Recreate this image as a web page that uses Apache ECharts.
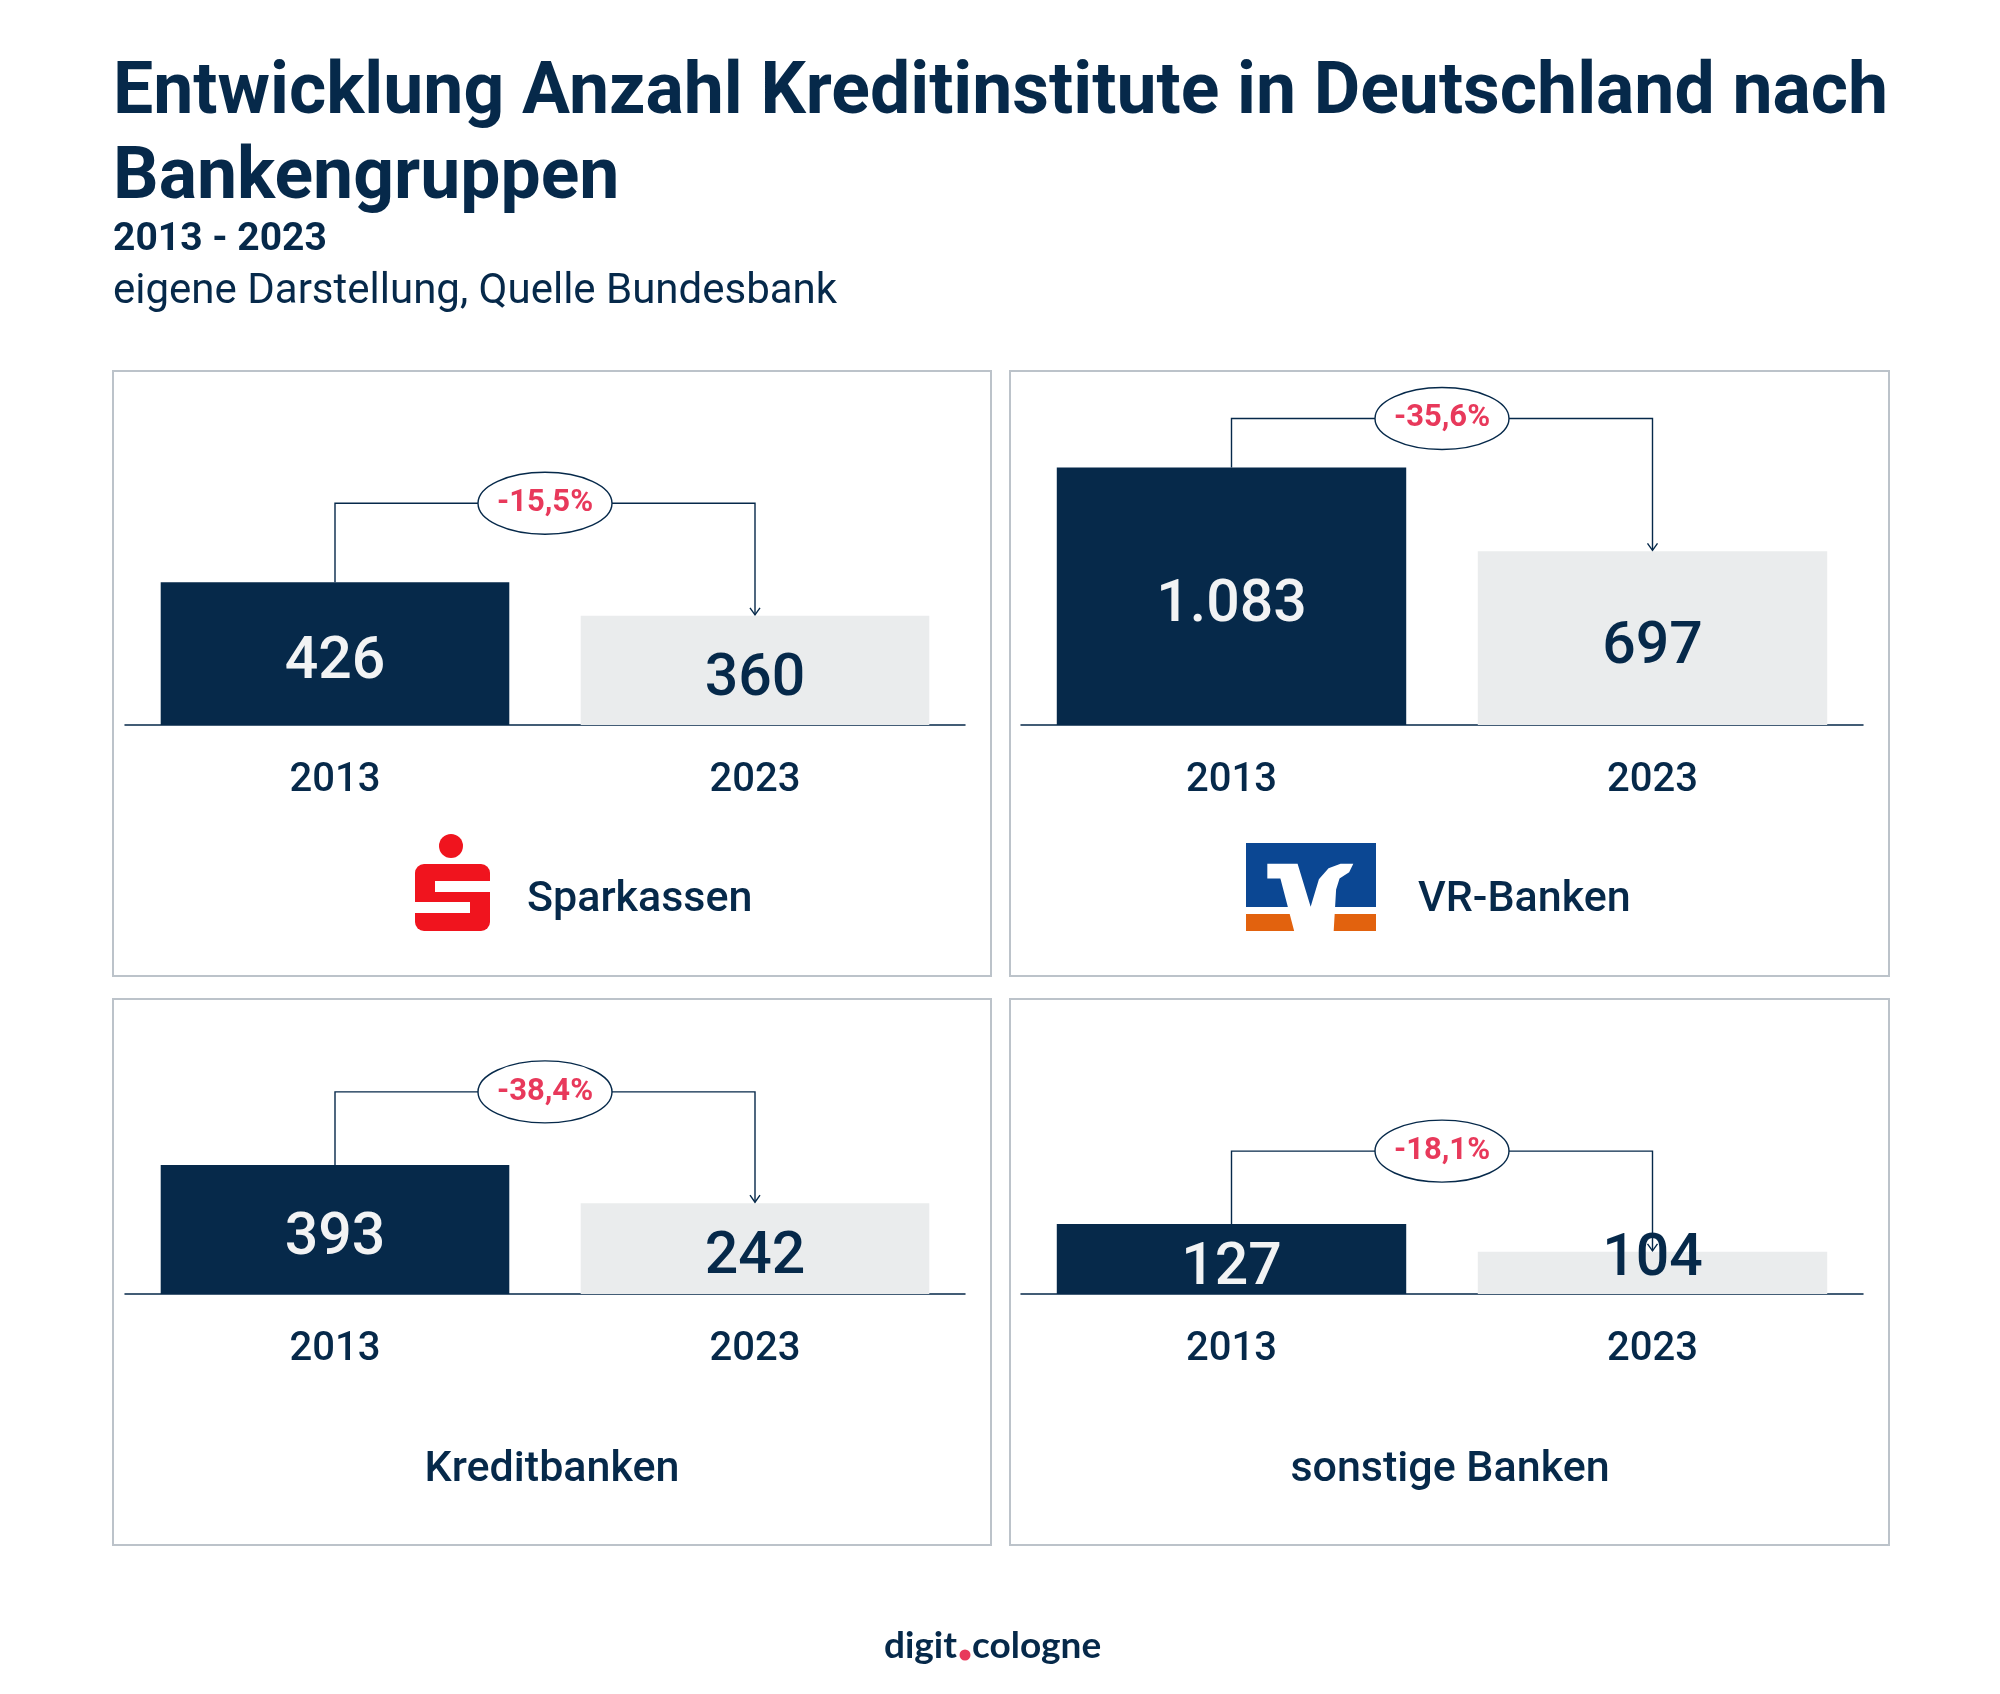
<!DOCTYPE html>
<html>
<head>
<meta charset="utf-8">
<script src="https://cdn.jsdelivr.net/npm/echarts@6/dist/echarts.min.js"></script>
<style>
html, body { margin: 0; padding: 0; background: #ffffff; }
#main { width: 2000px; height: 1694px; }
</style>
</head>
<body>
<div id="main"></div>
<script>
// Daten
var years = ['2013', '2023'];
var groups = ['Sparkassen', 'VR-Banken', 'Kreditbanken', 'sonstige Banken'];
var count2013 = [426, 1083, 393, 127];
var count2023 = [360, 697, 242, 104];

// die Vorlage ist nicht massstabsgetreu, deshalb je Panel eigener (unsichtbarer) Wertebereich
var axisMin = [145, -103, -116, 69];
var axisMax = [785, 1394, 925, 288];

var navy = '#06294a';
var red = '#e8395b';
var barColors = [navy, '#eaeced'];
var labelColors = ['#f2f3f4', navy];

// Layout der vier Panels
var grids = [
    { left: 125, width: 840, top: 400, height: 325 },
    { left: 1021, width: 842, top: 400, height: 325 },
    { left: 125, width: 840, top: 1030, height: 264 },
    { left: 1021, width: 842, top: 1030, height: 264 }
];
var bracketGap = [79, 49, 73, 73];
var frames = [
    [113, 371, 878, 605], [1010, 371, 879, 605],
    [113, 999, 878, 546], [1010, 999, 879, 546]
];

function fmtNum(v) {
    return String(v).replace(/\B(?=(\d{3})+(?!\d))/g, '.');
}
function fmtPct(a, b) {
    return ((b - a) / a * 100).toFixed(1).replace('.', ',') + '%';
}

var myChart = echarts.init(document.getElementById('main'));

var xAxes = [], yAxes = [], series = [];
for (var i = 0; i < 4; i++) {
    xAxes.push({
        type: 'category',
        gridIndex: i,
        data: years,
        axisLine: { onZero: false, lineStyle: { color: navy, width: 1.5 } },
        axisTick: { show: false },
        axisLabel: { color: navy, fontSize: 40, fontWeight: 500, fontFamily: 'Roboto', margin: 36 }
    });
    yAxes.push({ type: 'value', gridIndex: i, min: axisMin[i], max: axisMax[i], show: false });
    series.push(barSeries(i));
    series.push(bracketSeries(i));
}

function barSeries(i) {
    return {
        type: 'custom',
        xAxisIndex: i,
        yAxisIndex: i,
        clip: false,
        data: [[0, count2013[i]], [1, count2023[i]]],
        encode: { x: 0, y: 1 },
        renderItem: function (params, api) {
            var c = api.value(0), v = api.value(1);
            var pt = api.coord([c, v]);
            var cs = params.coordSys;
            var base = cs.y + cs.height;
            var w = api.size([1, 0])[0] * 0.83;
            var h = base - pt[1];
            // sehr flache Balken: Zahl sitzt ueber der Grundlinie und ragt nach oben heraus
            var tc = h < 55 ? { position: 'insideBottom', distance: 4 } : { position: 'inside', offset: [0, 10] };
            return {
                type: 'rect',
                shape: { x: pt[0] - w / 2, y: pt[1], width: w, height: h },
                style: { fill: barColors[c] },
                textContent: {
                    style: {
                        text: fmtNum(v), fill: labelColors[c],
                        fontSize: 59, fontWeight: 500, fontFamily: 'Roboto'
                    }
                },
                textConfig: tc
            };
        }
    };
}

function bracketSeries(i) {
    return {
        type: 'custom',
        xAxisIndex: i,
        yAxisIndex: i,
        clip: false,
        z: 3,
        data: [[0, count2013[i], 1, count2023[i]]],
        encode: { x: [0, 2], y: [1, 3] },
        renderItem: function (params, api) {
            var p1 = api.coord([api.value(0), api.value(1)]);
            var p2 = api.coord([api.value(2), api.value(3)]);
            var yb = p1[1] - bracketGap[i];
            var mid = (p1[0] + p2[0]) / 2;
            var ln = { stroke: navy, lineWidth: 1.4, fill: null };
            return {
                type: 'group',
                children: [
                    { type: 'polyline', shape: { points: [[p1[0], p1[1]], [p1[0], yb], [p2[0], yb], [p2[0], p2[1] - 1]] }, style: ln },
                    { type: 'polyline', shape: { points: [[p2[0] - 5, p2[1] - 8], [p2[0], p2[1] - 1], [p2[0] + 5, p2[1] - 8]] }, style: ln },
                    { type: 'ellipse', shape: { cx: mid, cy: yb, rx: 67, ry: 31 }, style: { fill: '#ffffff', stroke: navy, lineWidth: 1.4 } },
                    {
                        type: 'text', x: mid, y: yb,
                        style: {
                            text: fmtPct(api.value(1), api.value(3)), fill: red,
                            fontSize: 31, fontWeight: 'bold', fontFamily: 'Roboto',
                            align: 'center', verticalAlign: 'middle'
                        }
                    }
                ]
            };
        }
    };
}

var graphics = [];
frames.forEach(function (f) {
    graphics.push({
        type: 'rect', z: -1,
        shape: { x: f[0], y: f[1], width: f[2], height: f[3] },
        style: { fill: '#ffffff', stroke: '#bcc3ca', lineWidth: 2 }
    });
});

// Sparkasse-Logo
graphics.push({ type: 'circle', shape: { cx: 451, cy: 846, r: 12 }, style: { fill: '#f0141e' } });
graphics.push({ type: 'rect', shape: { x: 415, y: 864, width: 75, height: 67, r: 9 }, style: { fill: '#f0141e' } });
graphics.push({ type: 'rect', shape: { x: 435, y: 881, width: 56, height: 11 }, style: { fill: '#ffffff' } });
graphics.push({ type: 'rect', shape: { x: 414, y: 902, width: 56, height: 11 }, style: { fill: '#ffffff' } });

// VR-Logo
var vrL = 1246, vrT = 843, vrW = 130, vrH = 88;
graphics.push({ type: 'rect', shape: { x: vrL, y: vrT, width: vrW, height: 64 }, style: { fill: '#0b4793' } });
graphics.push({ type: 'rect', shape: { x: vrL, y: vrT + 71, width: vrW, height: 17 }, style: { fill: '#e2620e' } });
var vPts = [[62, 75], [150, 75], [188, 200], [212, 120], [240, 88], [275, 75], [312, 75], [300, 100],
    [272, 118], [262, 150], [255, 270], [140, 270], [100, 118], [62, 118]];
graphics.push({
    type: 'polygon',
    shape: { points: vPts.map(function (p) { return [vrL + p[0] / 378 * vrW, vrT + (p[1] - 15) / 255 * vrH]; }) },
    style: { fill: '#ffffff' }
});

// Panel-Beschriftungen
var nameStyle = { fill: navy, fontSize: 43, fontWeight: 500, fontFamily: 'Roboto', verticalAlign: 'middle' };
var namePos = [[527, 900, 'left'], [1418, 900, 'left'], [552, 1470, 'center'], [1450, 1470, 'center']];
groups.forEach(function (g, k) {
    graphics.push({
        type: 'text', x: namePos[k][0], y: namePos[k][1],
        style: Object.assign({ text: g, align: namePos[k][2] }, nameStyle)
    });
});

// Fusszeile
graphics.push({ type: 'text', x: 957, y: 1646, style: { text: 'digit', fill: navy, fontSize: 37, fontWeight: 700, fontFamily: 'Lato', align: 'right', verticalAlign: 'middle' } });
graphics.push({ type: 'circle', shape: { cx: 965, cy: 1655, r: 5.5 }, style: { fill: red } });
graphics.push({ type: 'text', x: 972, y: 1646, style: { text: 'cologne', fill: navy, fontSize: 37, fontWeight: 700, fontFamily: 'Lato', align: 'left', verticalAlign: 'middle' } });

var option = {
    backgroundColor: '#ffffff',
    animation: false,
    title: [
        {
            text: 'Entwicklung Anzahl Kreditinstitute in Deutschland nach\nBankengruppen',
            left: 113, top: 53, padding: 0,
            textStyle: { color: navy, fontSize: 71.5, fontWeight: 700, fontFamily: 'Roboto', lineHeight: 85 }
        },
        {
            text: '2013 - 2023',
            left: 113, top: 221, padding: 0,
            textStyle: { color: navy, fontSize: 39, fontWeight: 700, fontFamily: 'Roboto', lineHeight: 39 }
        },
        {
            text: 'eigene Darstellung, Quelle Bundesbank',
            left: 113, top: 271, padding: 0,
            textStyle: { color: navy, fontSize: 42, fontWeight: 400, fontFamily: 'Roboto', lineHeight: 42 }
        }
    ],
    grid: grids,
    xAxis: xAxes,
    yAxis: yAxes,
    series: series,
    graphic: graphics
};

myChart.setOption(option);
</script>
</body>
</html>
